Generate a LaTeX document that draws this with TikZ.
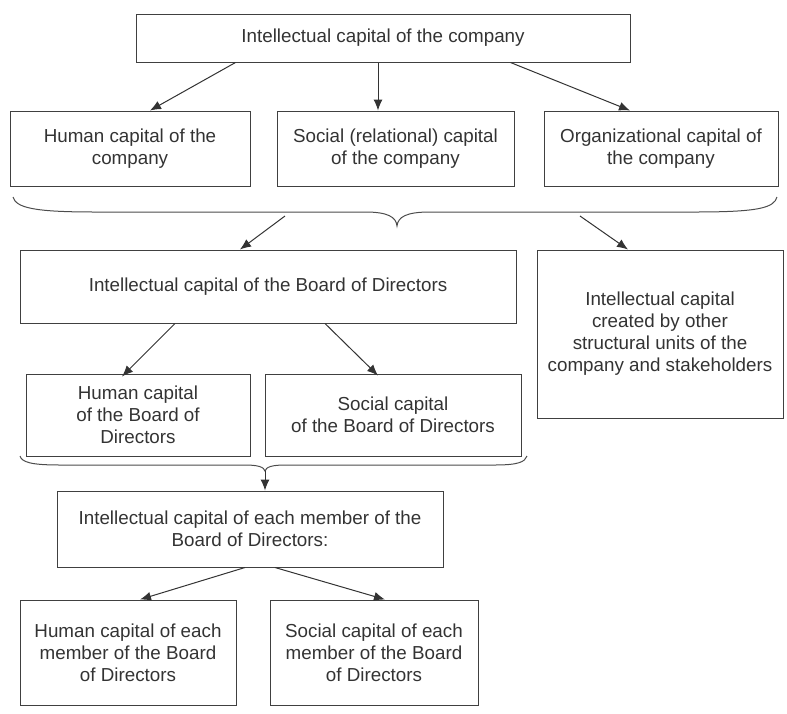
\documentclass[tikz,border=0pt]{standalone}
\usepackage{fontspec}
\setmainfont{Liberation Sans}
\usetikzlibrary{arrows.meta}

\tikzset{
  box/.style={draw=black!75, line width=1pt, align=center, inner sep=0pt,
    text=black!80, font=\fontsize{18.8}{22}\selectfont},
  arr/.style={draw=black!80, line width=1pt, -{Latex[length=11pt,width=9pt]}},
  brace/.style={draw=black!70, line width=1pt}
}

\begin{document}
\begin{tikzpicture}[x=1pt,y=-1pt]
\useasboundingbox (0,0) rectangle (787,713);

% Text Node
\node [box, minimum width=494pt, minimum height=48pt] (icc) at (383,38) {Intellectual capital of the company};
% Text Node
\node [box, minimum width=240pt, minimum height=75pt] (hcc) at (130,148.5) {Human capital of the\\company};
% Text Node
\node [box, minimum width=237pt, minimum height=75pt] (scc) at (395.5,148.5) {Social (relational) capital\\of the company};
% Text Node
\node [box, minimum width=234pt, minimum height=75pt] (occ) at (661,148.5) {Organizational capital of\\the company};

%Straight Lines
\draw [arr] ([xshift=100pt]icc.south west) -- ([xshift=20pt]hcc.north);
\draw [arr] ([xshift=-5pt]icc.south) -- ([xshift=-17.5pt]scc.north);
\draw [arr] ([xshift=-120pt]icc.south east) -- ([xshift=-31pt]occ.north);

%Curve Lines
\draw [brace] (13,197) .. controls (16,208) and (35,212) .. (95,212) -- (365,212) .. controls (388,212) and (396,217) .. (397,226) .. controls (398,217) and (406,212) .. (430,212) -- (695,212) .. controls (758,212) and (774,208) .. (777,197);
\coordinate (bl) at (285,216);
\coordinate (br) at (580,216);

% Text Node
\node [box, minimum width=496pt, minimum height=73pt] (icb) at (268,286.5) {Intellectual capital of the Board of Directors};
% Text Node
\node [box, minimum width=246pt, minimum height=168pt] (oth) at (660,334) {Intellectual capital\\created by other\\structural units of the\\company and stakeholders};

%Straight Lines
\draw [arr] (bl) -- ([xshift=-28pt]icb.north);
\draw [arr] (br) -- ([xshift=-32pt]oth.north);

% Text Node
\node [box, minimum width=224pt, minimum height=82pt] (hcb) at (138,415) {Human capital\\of the Board of\\Directors};
% Text Node
\node [box, minimum width=256pt, minimum height=82pt] (scb) at (393,415) {Social capital\\of the Board of Directors};

%Straight Lines
\draw [arr] ([xshift=-93pt]icb.south) -- ([xshift=-16pt,yshift=-3pt]hcb.north);
\draw [arr] ([xshift=57pt]icb.south) -- ([xshift=-15pt,yshift=-2pt]scb.north);

%Curve Lines
\draw [brace] (20,456) .. controls (22,462) and (30,465) .. (60,465) -- (245,465) .. controls (258,465) and (264,467) .. (265,471) .. controls (266,467) and (272,465) .. (285,465) -- (495,465) .. controls (518,465) and (525,462) .. (527,456);
\coordinate (bm) at (265,471);

% Text Node
\node [box, minimum width=386pt, minimum height=76pt] (icm) at (250,529) {Intellectual capital of each member of the\\Board of Directors:};

%Straight Lines
\draw [arr] (bm) -- (bm |- icm.north);

% Text Node
\node [box, minimum width=216pt, minimum height=105pt] (hcm) at (128,652.5) {Human capital of each\\member of the Board\\of Directors};
% Text Node
\node [box, minimum width=208pt, minimum height=105pt] (scm) at (374,652.5) {Social capital of each\\member of the Board\\of Directors};

%Straight Lines
\draw [arr] ([xshift=-5pt]icm.south) -- ([xshift=12pt]hcm.north);
\draw [arr] ([xshift=25pt]icm.south) -- ([xshift=11pt]scm.north);

\end{tikzpicture}
\end{document}
